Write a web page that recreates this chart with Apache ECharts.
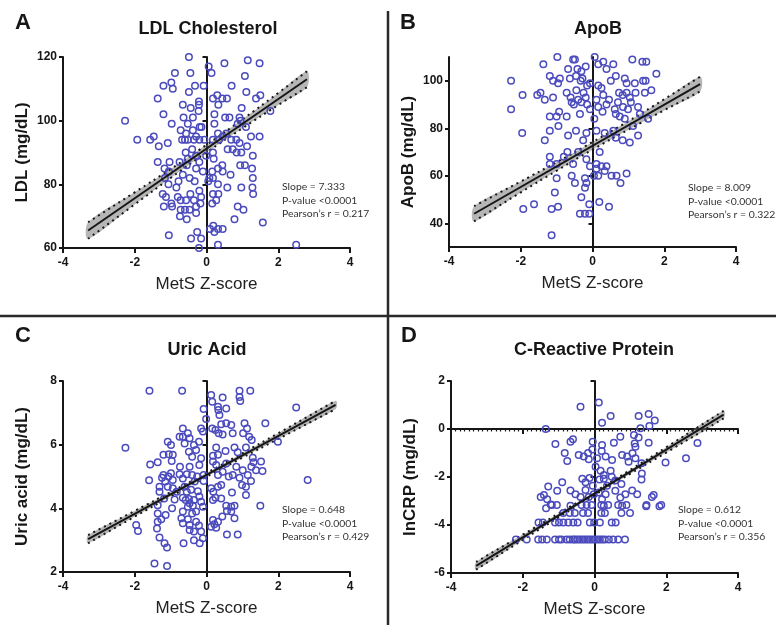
<!DOCTYPE html>
<html>
<head>
<meta charset="utf-8">
<script src="https://cdn.jsdelivr.net/npm/echarts@6/dist/echarts.min.js"></script>
<style>
html, body { margin: 0; background: #fff; }
#chart { width: 776px; height: 625px; }
</style>
</head>
<body>
<div id="chart"></div>
<script>
// MetS Z-score vs. lipid / inflammation markers
const xTicks = [-4, -2, 0, 2, 4];

const ldlPoints = [
  [-0.49,120],[0.5,118],[1.15,119],[1.48,118],[0.06,117],[0.14,115],[-0.88,115],[-0.45,115],[1.07,114],
  [-1.2,111],[-0.98,112],[-0.94,110],[-0.32,111],[-0.08,111],[0.7,111],[-0.49,109],[1.11,109],[-1.36,107],
  [0.3,108],[0.18,107],[0.44,107],[-0.21,106],[-0.21,105],[0.57,107],[1.38,107],[1.5,108],[-0.66,105],
  [-0.44,104],[0.33,105],[0.22,102],[0.98,104],[1.78,103],[-1.2,102],[-0.22,103],[-0.64,101],[-0.38,101],
  [0.52,101],[0.64,101],[0.92,101],[0.95,100],[-2.27,100],[-0.97,99],[-0.19,98],[-0.14,98],[-0.52,99],
  [0.87,99],[1.1,98],[0.22,99],[-0.72,97],[-0.57,96],[-0.38,97],[-0.29,95],[0.32,96],[0.55,96],[-1.93,94],
  [-1.57,94],[-1.47,95],[-1.08,93],[-1.33,92],[-0.68,94],[-0.52,94],[-0.35,94],[-0.2,94],[-0.06,94],
  [0.18,94],[0.45,95],[0.69,94],[0.83,94],[0.92,93],[1.24,95],[1.48,95],[0.59,91],[0.73,91],[0.84,90],
  [0.97,90],[1.13,92],[-0.58,90],[-0.4,91],[-0.01,89],[0.18,90],[-0.52,88],[-0.29,89],[-1.36,87],[-1.03,87],
  [-0.75,87],[-0.55,86],[-0.2,87],[0.2,88],[0.44,86],[0.94,86],[1.07,86],[1.27,85],[1.29,89],[-1.17,85],
  [-1.05,84],[-0.29,85],[-0.1,84],[0.16,84],[0.32,85],[0.45,84],[0.67,83],[1.29,82],[-1.16,82],[-0.66,83],
  [-0.47,82],[0.08,82],[0.18,82],[-0.78,81],[-0.33,81],[0.32,80],[-1.06,80],[-0.84,79],[0.58,79],[0.97,79],
  [1.28,79],[-1.22,77],[-1.13,76],[-0.45,77],[-0.2,78],[0.18,77],[0.33,77],[1.3,77],[0.27,75],[0.16,74],
  [-1.19,73],[-0.98,74],[-0.96,73],[-0.72,75],[-0.57,75],[-0.35,75],[-0.15,76],[-0.72,72],[-0.6,72],
  [-0.47,72],[-0.29,73],[-0.17,74],[0.87,73],[1.03,72],[-0.55,69],[-0.29,71],[0.78,69],[1.57,68],[0.19,67],
  [0.32,66],[0.45,66],[0.1,66],[0.22,65],[-0.26,65],[-1.05,64],[-0.43,63],[-0.15,63],[0.32,61],[-0.21,60],
  [2.5,61],[-0.74,70],[-0.8,76],[0.05,81],[-0.6,94],[0.35,94]
];
const ldlLine = [[-3.3, 65.5], [2.8, 113]];
const ldlBandX = [-3.3, -2, -1, 0, 1, 2, 2.8];
const ldlBandLo = [62.9, 73.7, 82.0, 90.0, 97.6, 104.9, 110.5];
const ldlBandHi = [68.1, 77.5, 84.8, 92.4, 100.4, 108.7, 115.5];
const ldlTicks = [60, 80, 100, 120];
const ldlStats = ['Slope = 7.333', 'P-value <0.0001', 'Pearson\u2019s r = 0.217'];

const apobPoints = [
  [-0.98,110],[-0.54,109],[-0.49,109],[-1.37,107],[0.06,110],[0.3,108],[0.58,107],[0.39,105],[0.16,107],
  [1.11,109],[1.39,108],[1.5,108],[1.78,103],[-0.19,106],[-0.31,104],[-0.42,105],[-0.68,105],[-1.19,102],
  [-1.1,100],[-0.96,99],[-0.91,101],[-2.27,100],[-0.63,101],[-0.46,102],[-0.33,100],[-0.28,101],[-0.15,98],
  [-0.07,99],[0.16,98],[0.25,97],[0.51,100],[0.65,102],[0.9,101],[0.95,99],[1.18,99],[1.41,100],[1.48,100],
  [0.74,95],[0.84,94],[0.95,95],[1.04,93],[1.2,95],[1.46,95],[1.64,96],[-1.95,94],[-1.54,94],[-1.45,95],
  [-1.33,92],[-2.27,88],[-1.1,93],[-0.72,95],[-0.61,93],[-0.58,91],[-0.45,96],[-0.4,92],[-0.31,91],
  [-0.19,93],[-0.15,90],[-0.07,88],[0.11,92],[0.16,89],[0.28,87],[0.39,90],[0.46,92],[0.62,88],[0.71,91],
  [0.85,89],[0.99,88],[1.07,91],[1.27,89],[1.32,86],[1.55,84],[-0.93,87],[-1.19,85],[-1.0,85],[-0.72,85],
  [-1.96,78],[-1.19,79],[-0.95,81],[-1.33,75],[-0.68,77],[-0.46,79],[-0.26,75],[-0.17,78],[0.11,79],
  [0.34,78],[0.58,79],[0.65,76],[0.84,75],[1.04,74],[0.9,84],[1.13,81],[1.27,77],[0.65,86],[0.76,85],
  [-1.19,68],[-1.19,65],[-1.0,65],[-0.8,68],[-0.54,65],[-0.4,70],[-0.17,67],[-0.07,64],[0.11,65],[0.25,64],
  [0.39,64],[0.34,62],[0.11,63],[0.16,60],[0.04,60],[-0.58,60],[-0.49,57],[-0.21,59],[-0.17,57],[-1.0,59],
  [0.53,60],[0.67,60],[0.78,57],[0.95,61],[-0.21,55],[-0.31,51],[-0.09,48],[0.19,49],[0.46,47],[-0.09,44],
  [-1.05,53],[-0.96,47],[-1.14,46],[-1.93,46],[-1.63,48],[-0.35,44],[-0.21,44],[-1.14,35],[-0.52,90],
  [-0.25,95],[0.3,94],[-0.35,86],[0.05,84],[0.2,70],[-0.7,70]
];
const apobLine = [[-3.3, 44], [3.0, 98.6]];
const apobBandX = [-3.3, -2, -1, 0, 1, 2, 3.0];
const apobBandLo = [40.8, 53.0, 62.1, 71.0, 79.4, 87.6, 95.5];
const apobBandHi = [47.2, 57.6, 65.7, 74.2, 83.0, 92.2, 101.7];
const apobTicks = [40, 60, 80, 100];
const apobStats = ['Slope = 8.009', 'P-value <0.0001', 'Pearson\u2019s r = 0.322'];

const uricPoints = [
  [-1.59,7.69],[-0.68,7.69],[0.92,7.69],[1.22,7.69],[0.13,7.56],[0.16,7.35],[0.45,7.48],[0.32,7.19],
  [0.92,7.5],[0.94,7.37],[0.55,7.14],[2.5,7.17],[0.33,7.09],[0.36,6.93],[-0.08,7.12],[-0.01,6.81],
  [0.55,6.67],[0.41,6.64],[0.69,6.62],[1.64,6.67],[1.06,6.67],[1.13,6.51],[-0.66,6.51],[-0.75,6.25],
  [-0.66,6.25],[-0.52,6.36],[-0.47,6.2],[-0.15,6.51],[-0.1,6.41],[0.16,6.51],[0.25,6.46],[0.34,6.36],
  [0.45,6.32],[0.73,6.36],[1.02,6.36],[1.19,6.25],[1.26,6.15],[1.99,6.09],[-2.26,5.9],[-1.08,6.09],
  [-0.99,5.99],[-1.05,5.7],[-0.94,5.68],[-1.2,5.68],[-0.61,6.04],[-0.35,5.99],[-0.21,6.09],[-0.49,5.78],
  [-0.29,5.83],[-0.4,5.62],[0.27,5.91],[0.18,5.65],[0.32,5.68],[0.53,5.8],[0.78,5.91],[0.87,5.76],
  [1.1,5.91],[1.29,5.59],[1.31,5.45],[1.52,5.47],[-1.57,5.38],[-1.36,5.45],[-0.97,5.49],[-0.74,5.31],
  [-0.47,5.31],[-0.2,5.36],[-0.15,5.57],[0.18,5.47],[0.27,5.36],[0.55,5.41],[0.83,5.31],[1.01,5.2],
  [1.25,5.31],[1.38,5.2],[1.56,5.17],[-1.2,5.05],[-1.06,5.0],[-1.15,4.84],[-1.24,4.96],[-0.99,5.1],
  [-0.94,4.89],[-1.6,4.88],[-0.75,5.07],[-0.66,4.94],[-0.55,5.07],[-0.4,5.05],[-0.33,4.84],[-0.26,5.0],
  [-0.08,5.05],[-0.08,4.86],[0.32,5.05],[0.45,5.15],[0.62,5.0],[0.73,5.05],[0.92,4.96],[1.15,5.05],
  [1.24,4.86],[2.82,4.89],[-1.31,4.68],[-1.31,4.52],[-1.08,4.68],[-0.94,4.63],[-0.83,4.52],[-0.61,4.68],
  [-0.55,4.52],[-0.43,4.58],[-0.24,4.54],[0.13,4.63],[0.19,4.52],[0.32,4.68],[0.41,4.73],[0.71,4.5],
  [0.99,4.73],[1.1,4.68],[-1.18,4.31],[-0.89,4.28],[-0.66,4.33],[-0.49,4.29],[-0.35,4.26],[-0.47,4.16],
  [-0.38,4.08],[-0.52,4.05],[-0.58,4.26],[-0.15,4.21],[-0.1,4.05],[-0.2,4.37],[0.18,4.26],[0.25,4.33],
  [0.41,4.31],[1.1,4.42],[-1.36,3.84],[-1.36,4.1],[-0.96,4.0],[-1.14,3.79],[-1.26,3.66],[-0.66,3.9],
  [-0.4,3.84],[-0.29,3.9],[0.55,4.08],[0.69,4.05],[0.78,4.08],[0.69,3.9],[0.57,3.92],[0.44,3.74],
  [1.5,4.08],[0.78,3.69],[-0.7,3.69],[-0.66,3.53],[-0.47,3.48],[-0.52,3.66],[-0.29,3.58],[-0.21,3.46],
  [0.18,3.63],[0.22,3.5],[0.13,3.42],[0.27,3.39],[0.32,3.58],[-1.96,3.48],[-1.91,3.29],[-1.36,3.58],
  [-1.38,3.37],[-0.47,3.32],[-0.35,3.27],[-0.15,3.27],[0.57,3.18],[0.87,3.18],[-1.31,3.08],[-1.17,2.9],
  [-1.1,2.77],[-0.64,2.9],[-0.35,3.0],[-0.19,2.9],[-0.1,3.06],[-1.45,2.27],[-1.1,2.19]
];
const uricLine = [[-3.3, 3.03], [3.6, 7.25]];
const uricBandX = [-3.3, -2, -1, 0, 1, 2, 3.6];
const uricBandLo = [2.9, 3.74, 4.37, 4.99, 5.59, 6.18, 7.12];
const uricBandHi = [3.16, 3.92, 4.51, 5.11, 5.73, 6.36, 7.38];
const uricTicks = [2, 4, 6, 8];
const uricStats = ['Slope = 0.648', 'P-value <0.0001', 'Pearson\u2019s r = 0.429'];

const crpPoints = [
  [-0.39,0.93],[0.12,1.1],[0.45,0.54],[0.21,0.26],[1.23,0.54],[1.51,0.63],[1.68,0.35],[1.53,0.13],
  [-1.36,0],[-0.67,-0.53],[-0.6,-0.43],[-1.09,-0.63],[-0.05,-0.53],[0.21,-0.67],[0.54,-0.57],[0.72,-0.32],
  [1.1,-0.25],[1.23,-0.35],[1.28,0.03],[1.51,-0.57],[-0.83,-1.0],[-0.76,-1.33],[-0.44,-1.08],[-0.3,-1.15],
  [-0.18,-1.0],[-0.16,-1.26],[-0.06,-0.85],[0.2,-0.92],[0.31,-1.15],[0.07,-1.22],[0.49,-1.29],[0.77,-1.08],
  [0.91,-1.15],[0.95,-1.36],[1.14,-1.22],[1.31,-1.43],[1.06,-1.01],[1.14,-0.74],[1.12,-0.6],[1.98,-1.4],
  [2.55,-1.22],[2.87,-0.58],[0.03,-1.57],[0.17,-1.74],[0.26,-1.92],[0.45,-1.74],[0.48,-1.99],[1.32,-1.85],
  [1.31,-2.1],[-0.34,-2.07],[-0.25,-2.22],[-0.14,-2.04],[-0.05,-2.36],[0.14,-2.1],[0.26,-2.07],[0.35,-2.36],
  [0.58,-2.15],[0.75,-2.29],[-0.9,-2.22],[-1.04,-2.57],[-1.29,-2.4],[-0.67,-2.56],[-0.53,-2.72],[-0.39,-2.83],
  [-1.5,-2.83],[-1.32,-2.93],[-1.22,-3.15],[-0.25,-2.54],[-0.16,-2.83],[-0.02,-2.72],[0.12,-2.65],
  [0.21,-2.93],[0.31,-2.72],[0.58,-2.57],[0.72,-2.85],[0.86,-2.72],[1.05,-2.56],[1.19,-2.72],[1.6,-2.83],
  [1.65,-2.75],[1.44,-3.22],[1.81,-3.22],[-1.41,-2.75],[-1.35,-3.3],
  [-1.19,-3.17],[-1.05,-3.17],[-0.36,-3.17],[-0.22,-3.17],[-0.08,-3.17],[0.19,-3.17],[0.38,-3.17],
  [0.66,-3.17],[0.89,-3.17],[1.45,-3.17],[1.86,-3.17],[-0.67,-3.2],[0.26,-3.2],[0.77,-3.2],
  [-0.87,-3.5],[-0.69,-3.5],[-0.55,-3.5],[-0.32,-3.5],[-0.18,-3.5],[0.19,-3.5],[0.29,-3.5],[0.75,-3.5],
  [0.99,-3.5],
  [-1.56,-3.9],[-1.44,-3.9],[-1.1,-3.9],[-0.99,-3.9],[-0.87,-3.9],[-0.73,-3.9],[-0.59,-3.9],[-0.47,-3.9],
  [-0.13,-3.9],[-0.01,-3.9],[0.15,-3.9],[0.48,-3.9],[0.59,-3.9],
  [-2.19,-4.6],[-1.89,-4.6],[-1.57,-4.6],[-1.46,-4.6],[-1.33,-4.6],[-1.1,-4.6],[-0.99,-4.6],[-0.92,-4.6],
  [-0.78,-4.6],[-0.69,-4.6],[-0.6,-4.6],[-0.55,-4.6],[-0.48,-4.6],[-0.41,-4.6],[-0.34,-4.6],[-0.27,-4.6],
  [-0.2,-4.6],[-0.13,-4.6],[-0.06,-4.6],[0.01,-4.6],[0.08,-4.6],[0.15,-4.6],[0.22,-4.6],[0.29,-4.6],
  [0.4,-4.6],[0.52,-4.6],[0.66,-4.6],[0.85,-4.6]
];
const crpLine = [[-3.3, -5.7], [3.6, 0.6]];
const crpBandX = [-3.3, -2, -1, 0, 1, 2, 3.6];
const crpBandLo = [-5.86, -4.62, -3.68, -2.76, -1.86, -0.98, 0.44];
const crpBandHi = [-5.54, -4.4, -3.52, -2.62, -1.7, -0.76, 0.76];
const crpTicks = [-6, -4, -2, 0, 2];
const crpStats = ['Slope = 0.612', 'P-value <0.0001', 'Pearson\u2019s r = 0.356'];

const FONT = '"Liberation Sans", Arial, sans-serif';
const INK = '#161616';
const DOT = '#4b4bbd';

const panels = [
  { letter: 'A', title: 'LDL Cholesterol', yName: 'LDL (mg/dL)', points: ldlPoints, line: ldlLine,
    bx: ldlBandX, lo: ldlBandLo, hi: ldlBandHi, ticks: ldlTicks, yMin: 60, yMax: 120, stats: ldlStats,
    grid: { left: 63, top: 57, width: 287, height: 191 }, letterPos: [15, 23], titlePos: [208, 29], statsPos: [282, 180] },
  { letter: 'B', title: 'ApoB', yName: 'ApoB (mg/dL)', points: apobPoints, line: apobLine,
    bx: apobBandX, lo: apobBandLo, hi: apobBandHi, ticks: apobTicks, yMin: 30, yMax: 110, stats: apobStats,
    grid: { left: 449, top: 57, width: 287, height: 190 }, letterPos: [400, 23], titlePos: [598, 29], statsPos: [688, 181] },
  { letter: 'C', title: 'Uric Acid', yName: 'Uric acid (mg/dL)', points: uricPoints, line: uricLine,
    bx: uricBandX, lo: uricBandLo, hi: uricBandHi, ticks: uricTicks, yMin: 2, yMax: 8, stats: uricStats,
    grid: { left: 63, top: 381, width: 287, height: 191 }, letterPos: [15, 336], titlePos: [207, 350], statsPos: [282, 503] },
  { letter: 'D', title: 'C-Reactive Protein', yName: 'lnCRP (mg/dL)', points: crpPoints, line: crpLine,
    bx: crpBandX, lo: crpBandLo, hi: crpBandHi, ticks: crpTicks, yMin: -6, yMax: 2, stats: crpStats,
    grid: { left: 451, top: 381, width: 287, height: 192 }, letterPos: [401, 336], titlePos: [594, 350], statsPos: [678, 503] }
];

const grid = [], xAxis = [], yAxis = [], series = [], graphic = [];

panels.forEach((p, i) => {
  grid.push(p.grid);

  xAxis.push({
    gridIndex: i, type: 'value', min: -4, max: 4, interval: 2,
    name: 'MetS Z-score', nameLocation: 'middle', nameGap: 28,
    nameTextStyle: { fontSize: 17, color: '#222', fontFamily: FONT },
    axisLine: { onZero: false, lineStyle: { color: INK, width: 2 } },
    axisTick: { length: 5, lineStyle: { color: INK, width: 2 } },
    axisLabel: { color: INK, fontSize: 12, fontWeight: 'bold', margin: 9, fontFamily: FONT },
    splitLine: { show: false }
  });

  yAxis.push({
    gridIndex: i, type: 'value', min: p.yMin, max: p.yMax,
    name: p.yName, nameLocation: 'middle', nameGap: 32,
    nameTextStyle: { fontSize: 17, fontWeight: 'bold', color: INK, fontFamily: FONT },
    axisLine: { onZero: false, lineStyle: { color: INK, width: 2 } },
    axisTick: { length: 4, customValues: p.ticks, lineStyle: { color: INK, width: 2 } },
    axisLabel: { color: INK, fontSize: 12, fontWeight: 'bold', margin: 6, fontFamily: FONT, customValues: p.ticks },
    splitLine: { show: false }
  });

  series.push({
    type: 'custom', xAxisIndex: i, yAxisIndex: i, z: 1, silent: true,
    data: [[p.bx[0], p.lo[0]]],
    renderItem(params, api) {
      const top = p.bx.map((x, k) => api.coord([x, p.hi[k]]));
      const bottom = p.bx.map((x, k) => api.coord([x, p.lo[k]])).reverse();
      return { type: 'polygon', shape: { points: top.concat(bottom), smooth: 0.3 },
        style: { fill: 'rgba(110,110,110,0.5)' } };
    }
  });

  [p.lo, p.hi].forEach(edge => {
    series.push({
      type: 'line', xAxisIndex: i, yAxisIndex: i, z: 2, silent: true, symbol: 'none', smooth: true,
      data: p.bx.map((x, k) => [x, edge[k]]),
      lineStyle: { color: INK, width: 2, type: [2, 4] }
    });
  });

  series.push({
    type: 'scatter', xAxisIndex: i, yAxisIndex: i, z: 3, symbol: 'circle', symbolSize: 6.5,
    data: p.points,
    itemStyle: { color: 'rgba(0,0,0,0)', borderColor: DOT, borderWidth: 1.5, opacity: 1 }
  });

  series.push({
    type: 'line', xAxisIndex: i, yAxisIndex: i, z: 4, silent: true, symbol: 'none',
    data: p.line, lineStyle: { color: INK, width: 2 }
  });

  graphic.push({
    type: 'text', x: p.letterPos[0], y: p.letterPos[1],
    style: { text: p.letter, fill: INK, font: 'bold 22px ' + FONT, verticalAlign: 'middle', textVerticalAlign: 'middle' }
  });
  graphic.push({
    type: 'text', x: p.titlePos[0], y: p.titlePos[1],
    style: { text: p.title, fill: INK, font: 'bold 18px ' + FONT, align: 'center', textAlign: 'center',
      verticalAlign: 'middle', textVerticalAlign: 'middle' }
  });
  graphic.push({
    type: 'text', x: p.statsPos[0], y: p.statsPos[1],
    style: { text: p.stats.join('\n'), fill: '#333', font: '10.4px Lato, ' + FONT, lineHeight: 13.5 }
  });
});

// zero lines crossing the plots (x = 0 in every panel)
panels.forEach((p, i) => {
  yAxis.push({
    gridIndex: i, type: 'value', min: p.yMin, max: p.yMax, position: 'right',
    axisLine: { onZero: true, lineStyle: { color: INK, width: 2 } },
    axisTick: { inside: true, length: 4, customValues: p.ticks, lineStyle: { color: INK, width: 2 } },
    axisLabel: { show: false, customValues: p.ticks },
    splitLine: { show: false }
  });
});

// y = 0 line in panel D
xAxis.push({
  gridIndex: 3, type: 'value', min: -4, max: 4, interval: 2, position: 'top',
  axisLine: { onZero: true, lineStyle: { color: INK, width: 2 } },
  axisTick: { inside: true, length: 5, lineStyle: { color: INK, width: 2 } },
  minorTick: { show: true, splitNumber: 16, length: 2.5, lineStyle: { color: INK, width: 1.2 } },
  axisLabel: { show: false },
  splitLine: { show: false }
});

// panel separators
graphic.push({ type: 'line', shape: { x1: 388, y1: 11, x2: 388, y2: 625 }, style: { stroke: '#2a2a2a', lineWidth: 2.5 } });
graphic.push({ type: 'line', shape: { x1: 0, y1: 316, x2: 776, y2: 316 }, style: { stroke: '#2a2a2a', lineWidth: 2.5 } });

const chart = echarts.init(document.getElementById('chart'));
chart.setOption({
  animation: false,
  backgroundColor: '#fff',
  textStyle: { fontFamily: FONT },
  grid, xAxis, yAxis, series, graphic
});
</script>
</body>
</html>
